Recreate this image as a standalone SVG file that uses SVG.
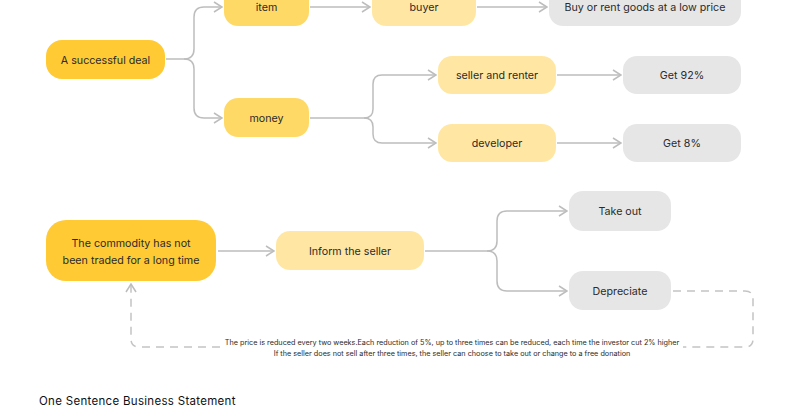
<svg xmlns="http://www.w3.org/2000/svg" width="800" height="418" viewBox="0 0 800 418">
<style>
.t{font-family:Inter,"Noto Sans","Liberation Sans",sans-serif;font-size:10.7px;fill:#2b2b2b;text-anchor:middle;dominant-baseline:central}
.s{font-family:Inter,"Noto Sans","Liberation Sans",sans-serif;font-size:7.25px;fill:#2b2b2b;text-anchor:middle}
.c1{fill:#FFCA33}
.c2{fill:#FFD966}
.c3{fill:#FFE7A3}
.g{fill:#E6E6E6}
.ln{fill:none;stroke:#BDBDBD;stroke-width:1.5}
.dl{fill:none;stroke:#C4C4C4;stroke-width:1.5;stroke-dasharray:8 6}
</style>
<defs>
<marker id="a" viewBox="0 0 10 12" refX="9" refY="6" markerWidth="10" markerHeight="12" markerUnits="userSpaceOnUse" orient="auto">
<path d="M1 1 L9 6 L1 11" fill="none" stroke="#BDBDBD" stroke-width="1.5"/>
</marker>
</defs>
<rect width="800" height="418" fill="#fff"/>
<g id="connectors">
<path class="ln" d="M166 59 H184 Q194 59 194 49 V17 Q194 7 204 7 H222" marker-end="url(#a)"/>
<path class="ln" d="M184 59 Q194 59 194 69 V108 Q194 118 204 118 H222" marker-end="url(#a)"/>
<path class="ln" d="M310 7 H370" marker-end="url(#a)"/>
<path class="ln" d="M477 7 H547" marker-end="url(#a)"/>
<path class="ln" d="M310 118 H364 Q373 118 373 109 V84 Q373 75 382 75 H436" marker-end="url(#a)"/>
<path class="ln" d="M364 118 Q373 118 373 127 V134 Q373 143 382 143 H436" marker-end="url(#a)"/>
<path class="ln" d="M557 75 H621" marker-end="url(#a)"/>
<path class="ln" d="M557 143 H621" marker-end="url(#a)"/>
<path class="ln" d="M218 251 H274" marker-end="url(#a)"/>
<path class="ln" d="M425 251 H487 Q497 251 497 241 V221 Q497 211 507 211 H567" marker-end="url(#a)"/>
<path class="ln" d="M487 251 Q497 251 497 261 V281 Q497 291 507 291 H567" marker-end="url(#a)"/>
<path class="dl" d="M673 291 H745 Q753 291 753 299 V339 Q753 347 745 347 H683"/>
<path class="dl" d="M220 347 H139 Q131 347 131 339 V284" marker-end="url(#a)"/>
</g>
<g id="deal"><rect class="c1" x="46" y="40" width="119" height="39" rx="16"/><text class="t" x="105.5" y="60">A successful deal</text></g>
<g id="item"><rect class="c2" x="224" y="-13" width="85" height="39" rx="14"/><text class="t" x="266.5" y="7">item</text></g>
<g id="buyer"><rect class="c3" x="372" y="-13" width="104" height="39" rx="14"/><text class="t" x="424" y="7">buyer</text></g>
<g id="buy-rent"><rect class="g" x="549" y="-13" width="192" height="39" rx="14"/><text class="t" x="645" y="7">Buy or rent goods at a low price</text></g>
<g id="money"><rect class="c2" x="224" y="98" width="85" height="39" rx="14"/><text class="t" x="266.5" y="118">money</text></g>
<g id="seller"><rect class="c3" x="438" y="56" width="118" height="38" rx="14"/><text class="t" x="497" y="75">seller and renter</text></g>
<g id="get92"><rect class="g" x="623" y="56" width="118" height="38" rx="14"/><text class="t" x="682" y="75">Get 92%</text></g>
<g id="developer"><rect class="c3" x="438" y="124" width="118" height="38" rx="14"/><text class="t" x="497" y="143">developer</text></g>
<g id="get8"><rect class="g" x="623" y="124" width="118" height="38" rx="14"/><text class="t" x="682" y="143">Get 8%</text></g>
<g id="commodity"><rect class="c1" x="46" y="220" width="170" height="61" rx="20"/><text class="t" x="131" y="243">The commodity has not</text><text class="t" x="131" y="260">been traded for a long time</text></g>
<g id="inform"><rect class="c3" x="276" y="231" width="148" height="39" rx="14"/><text class="t" x="350" y="251">Inform the seller</text></g>
<g id="takeout"><rect class="g" x="569" y="191" width="102" height="40" rx="14"/><text class="t" x="620" y="211">Take out</text></g>
<g id="depreciate"><rect class="g" x="569" y="271" width="102" height="39" rx="14"/><text class="t" x="620" y="291">Depreciate</text></g>
<g id="note">
<text class="s" x="452" y="345">The price is reduced every two weeks.Each reduction of 5%, up to three times can be reduced, each time the investor cut 2% higher</text>
<text class="s" x="452" y="356">If the seller does not sell after three times, the seller can choose to take out or change to a free donation</text>
</g>
<g id="title"><text x="39" y="405" font-family="Inter,'Noto Sans','Liberation Sans',sans-serif" font-size="11.5" letter-spacing="0.3" fill="#111">One Sentence Business Statement</text></g>
</svg>
